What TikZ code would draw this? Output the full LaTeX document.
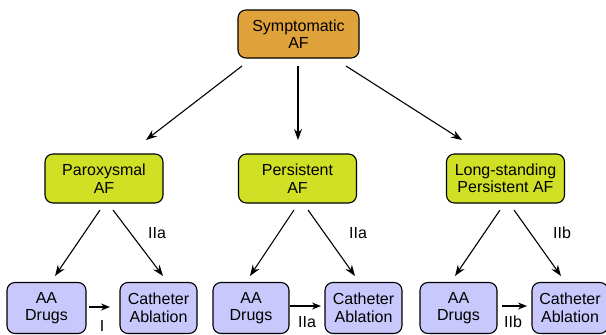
\documentclass[tikz,border=0pt]{standalone}
\usepackage{fontspec}
\setmainfont{Liberation Sans}
\usetikzlibrary{arrows.meta}
\definecolor{topc}{RGB}{224,162,58}
\definecolor{midc}{RGB}{208,224,36}
\definecolor{botc}{RGB}{200,200,252}
\begin{document}
\begin{tikzpicture}[x=1pt,y=-1pt,
  box/.style={draw=black,line width=1.1pt,rounded corners=8pt,align=center,inner sep=0pt,font=\fontsize{16}{17.5}\selectfont},
  topbox/.style={box,fill=topc,minimum width=121pt,minimum height=48pt},
  midbox/.style={box,fill=midc,minimum width=118pt,minimum height=49pt},
  botbox/.style={box,fill=botc,minimum width=78pt,minimum height=51pt},
  arr/.style={-{Stealth[length=11pt,width=8pt]},line width=1.1pt},
  harr/.style={-{Stealth[length=9pt,width=7pt]},line width=1.1pt},
  lab/.style={font=\fontsize{16}{17.5}\selectfont,inner sep=0pt}]
\useasboundingbox (0,0) rectangle (606,335);
\node[topbox] (top) at (298.5,34) {Symptomatic\\AF};
\node[midbox] (m1) at (104,178.5) {Paroxysmal\\AF};
\node[midbox] (m2) at (297.5,178.5) {Persistent\\AF};
\node[midbox] (m3) at (505.5,178.5) {Long-standing\\Persistent AF};
\node[botbox,minimum width=79pt] (a1) at (46.5,308) {AA\\Drugs};
\node[botbox,minimum width=77pt] (c1) at (158.5,308) {Catheter\\Ablation};
\node[botbox,minimum width=76pt] (a2) at (251,308) {AA\\Drugs};
\node[botbox,minimum width=77pt] (c2) at (363.5,308) {Catheter\\Ablation};
\node[botbox,minimum width=77pt] (a3) at (458.5,308) {AA\\Drugs};
\node[botbox,minimum width=76pt] (c3) at (570,308) {Catheter\\Ablation};
% top arrows
\coordinate (t1) at (242,66);
\coordinate (t2) at (298,66);
\coordinate (t3) at (346,66);
\coordinate (e1) at (146,140);
\coordinate (e2) at (298,140);
\coordinate (e3) at (462,140);
\draw[arr] (t1) -- (e1);
\draw[arr] (t2) -- (e2);
\draw[arr] (t3) -- (e3);
% second level arrows
\coordinate (p1s) at (100,210); \coordinate (p1e) at (55,276);
\coordinate (p2s) at (113,210); \coordinate (p2e) at (163,276);
\draw[arr] (p1s) -- (p1e);
\draw[arr] (p2s) -- (p2e);
\coordinate (q1s) at (294,210); \coordinate (q1e) at (250,276);
\coordinate (q2s) at (308,210); \coordinate (q2e) at (355,276);
\draw[arr] (q1s) -- (q1e);
\draw[arr] (q2s) -- (q2e);
\coordinate (r1s) at (500,210); \coordinate (r1e) at (455,276);
\coordinate (r2s) at (514,210); \coordinate (r2e) at (561,276);
\draw[arr] (r1s) -- (r1e);
\draw[arr] (r2s) -- (r2e);
\node[lab] (l1) at (157,233) {IIa};
\node[lab] (l2) at (358,233) {IIa};
\node[lab] (l3) at (562,233) {IIb};
% horizontal arrows
\coordinate (h1s) at (89,307); \coordinate (h1e) at (110,307);
\coordinate (h2s) at (290,306); \coordinate (h2e) at (321,306);
\coordinate (h3s) at (502,306); \coordinate (h3e) at (527,306);
\draw[harr] (h1s) -- (h1e);
\draw[harr] (h2s) -- (h2e);
\draw[harr] (h3s) -- (h3e);
\node[lab] (hl1) at (102,326) {I};
\node[lab] (hl2) at (307,322) {IIa};
\node[lab] (hl3) at (513,322) {IIb};
\end{tikzpicture}
\end{document}
